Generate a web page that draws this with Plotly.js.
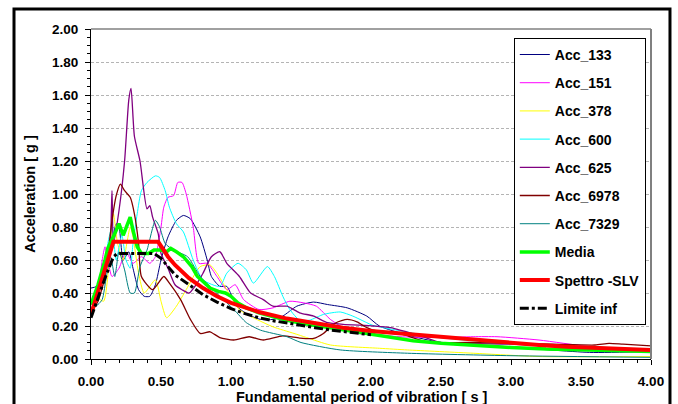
<!DOCTYPE html>
<html>
<head>
<meta charset="utf-8">
<script src="https://cdn.plot.ly/plotly-3.0.1.min.js"></script>
<style>html,body{margin:0;padding:0;background:#fff}#chart{width:678px;height:404px}</style>
</head>
<body>
<div id="chart"></div>
<script>
// ---- Data ----
const seriesNames = ["Acc_133","Acc_151","Acc_378","Acc_600","Acc_625","Acc_6978","Acc_7329","Media","Spettro -SLV","Limite inf"];

const acc133T = [0,0.04,0.08,0.12,0.15,0.18,0.2,0.23,0.27,0.3,0.34,0.38,0.42,0.46,0.5,0.55,0.61,0.66,0.71,0.78,0.83,0.86,0.92,0.97,1.04,1.12,1.21,1.3,1.37,1.47,1.59,1.69,1.83,1.97,2.06,2.26,2.5,2.97,3.56,4.0];
const acc133A = [0.43,0.44,0.5,0.62,0.7,0.82,0.8,0.6,0.65,0.55,0.42,0.38,0.38,0.45,0.6,0.74,0.84,0.87,0.85,0.74,0.6,0.5,0.44,0.44,0.32,0.27,0.24,0.24,0.26,0.32,0.345,0.33,0.31,0.26,0.2,0.145,0.1,0.075,0.04,0.045];

const acc151T = [0,0.05,0.08,0.1,0.12,0.15,0.2,0.25,0.3,0.36,0.42,0.46,0.5,0.52,0.55,0.59,0.62,0.65,0.68,0.73,0.77,0.83,0.9,0.97,1.03,1.09,1.2,1.3,1.42,1.52,1.61,1.71,1.83,1.9,2.02,2.2,2.5,2.73,2.9,3.2,3.56,4.0];
const acc151A = [0.35,0.42,0.6,0.68,0.6,0.5,0.55,0.65,0.58,0.62,0.58,0.62,0.8,0.92,0.98,0.99,1.07,1.07,1.0,0.8,0.58,0.58,0.5,0.42,0.45,0.36,0.3,0.31,0.35,0.34,0.32,0.24,0.175,0.155,0.15,0.135,0.13,0.135,0.135,0.115,0.075,0.055];

const acc378T = [0,0.04,0.09,0.12,0.16,0.19,0.23,0.28,0.3,0.34,0.38,0.46,0.5,0.54,0.61,0.68,0.78,0.85,0.9,0.97,1.06,1.16,1.3,1.45,1.54,1.71,2.06,2.26,2.73,3.2,4.0];
const acc378A = [0.3,0.37,0.35,0.5,0.88,0.7,0.6,0.8,0.74,0.52,0.4,0.48,0.35,0.25,0.32,0.42,0.56,0.57,0.52,0.42,0.3,0.25,0.195,0.155,0.13,0.085,0.065,0.055,0.035,0.015,0.015];

const acc600T = [0,0.05,0.1,0.12,0.15,0.18,0.22,0.25,0.28,0.3,0.33,0.36,0.4,0.46,0.49,0.53,0.56,0.61,0.66,0.73,0.8,0.92,0.97,1.05,1.11,1.16,1.26,1.31,1.37,1.42,1.49,1.56,1.66,1.78,1.87,1.97,2.01,2.49,2.97,3.56,4.0];
const acc600A = [0.3,0.4,0.55,0.7,0.8,0.6,0.75,0.6,0.55,0.7,0.88,1.02,1.07,1.11,1.1,1.02,0.92,0.82,0.77,0.6,0.48,0.44,0.52,0.58,0.54,0.46,0.56,0.5,0.38,0.3,0.235,0.235,0.27,0.285,0.26,0.22,0.205,0.13,0.095,0.075,0.055];

const acc625T = [0,0.05,0.1,0.13,0.15,0.16,0.2,0.24,0.27,0.286,0.31,0.35,0.4,0.42,0.44,0.48,0.5,0.55,0.6,0.65,0.7,0.75,0.8,0.86,0.92,0.97,1.06,1.14,1.23,1.3,1.4,1.49,1.59,1.69,1.8,2.02,2.14,2.37,2.5,3.0,3.5,4.0];
const acc625A = [0.33,0.45,0.55,0.6,1.02,0.7,0.9,1.2,1.57,1.64,1.35,1.2,0.91,0.93,0.86,0.76,0.64,0.55,0.45,0.42,0.4,0.45,0.52,0.62,0.65,0.58,0.5,0.4,0.36,0.32,0.32,0.28,0.26,0.22,0.21,0.2,0.19,0.135,0.1,0.09,0.07,0.05];

const acc6978T = [0,0.05,0.1,0.13,0.15,0.18,0.21,0.24,0.28,0.31,0.34,0.36,0.44,0.52,0.56,0.64,0.71,0.78,0.85,0.92,1.02,1.13,1.23,1.37,1.49,1.59,1.66,1.75,1.83,1.9,1.97,2.04,2.2,2.42,2.7,3.0,3.3,3.6,3.7,3.8,4.0];
const acc6978A = [0.28,0.35,0.5,0.7,0.84,0.99,1.06,1.02,0.98,0.88,0.7,0.5,0.42,0.5,0.46,0.36,0.24,0.155,0.165,0.13,0.115,0.135,0.115,0.14,0.127,0.125,0.155,0.22,0.24,0.225,0.19,0.17,0.155,0.1,0.1,0.095,0.09,0.085,0.095,0.09,0.08];

const acc7329T = [0,0.05,0.08,0.11,0.14,0.17,0.2,0.24,0.28,0.31,0.35,0.4,0.46,0.49,0.53,0.59,0.69,0.78,0.85,0.92,1.02,1.11,1.21,1.4,1.5,1.78,2.26,3.0,4.0];
const acc7329A = [0.3,0.33,0.36,0.5,0.62,0.5,0.65,0.54,0.4,0.4,0.56,0.66,0.84,0.8,0.7,0.66,0.62,0.5,0.44,0.38,0.3,0.22,0.175,0.135,0.1,0.055,0.035,0.02,0.01];

const mediaT = [0,0.05,0.1,0.12,0.17,0.2,0.23,0.26,0.28,0.3,0.33,0.36,0.41,0.45,0.5,0.54,0.57,0.61,0.66,0.72,0.76,0.8,0.85,0.91,0.96,1.0,1.05,1.11,1.2,1.33,1.45,1.55,1.7,1.85,2.0,2.15,2.3,2.5,2.75,3.0,3.25,3.5,3.75,4.0];
const mediaA = [0.33,0.45,0.6,0.67,0.76,0.82,0.75,0.82,0.86,0.78,0.68,0.64,0.64,0.66,0.66,0.65,0.67,0.65,0.62,0.56,0.5,0.47,0.43,0.41,0.4,0.38,0.34,0.31,0.28,0.25,0.225,0.21,0.19,0.17,0.155,0.135,0.11,0.095,0.08,0.07,0.06,0.055,0.05,0.045];

const slvT = [0,0.16,0.48,0.55,0.6,0.7,0.8,0.9,1.0,1.2,1.4,1.6,1.8,2.0,2.2,2.4,2.6,2.8,3.0,3.2,3.4,3.6,3.8,4.0];
const slvA = [0.27,0.71,0.71,0.62,0.57,0.49,0.43,0.38,0.34,0.285,0.245,0.215,0.19,0.17,0.155,0.142,0.127,0.11,0.097,0.085,0.075,0.067,0.06,0.054];

const limT = [0,0.05,0.1,0.16,0.19,0.45,0.5,0.55,0.6,0.7,0.8,0.9,1.0,1.1,1.2,1.3,1.4,1.5,1.6,1.7,1.8,1.9,2.0];
const limA = [0.25,0.37,0.49,0.62,0.64,0.64,0.61,0.56,0.51,0.45,0.39,0.345,0.305,0.275,0.25,0.232,0.217,0.204,0.19,0.177,0.166,0.156,0.147];

const xTicks = [0,0.5,1,1.5,2,2.5,3,3.5,4];
const yTicks = [0,0.2,0.4,0.6,0.8,1.0,1.2,1.4,1.6,1.8,2.0];
const xTitle = 'Fundamental period of vibration [ s ]';
const yTitle = 'Acceleration [ g ]';

// ---- Styles ----
const styles = [
  {color:"#000080", width:1},
  {color:"#FF00FF", width:1},
  {color:"#FFFF00", width:1},
  {color:"#00FFFF", width:1},
  {color:"#800080", width:1.3},
  {color:"#800000", width:1.3},
  {color:"#008080", width:1},
  {color:"#00FF00", width:3.5},
  {color:"#FF0000", width:4},
  {color:"#000000", width:3, dash:"dashdot"}
];
const xs = [acc133T,acc151T,acc378T,acc600T,acc625T,acc6978T,acc7329T,mediaT,slvT,limT];
const ys = [acc133A,acc151A,acc378A,acc600A,acc625A,acc6978A,acc7329A,mediaA,slvA,limA];

const traces = seriesNames.map((n,i)=>({
  x: xs[i], y: ys[i], name: n, type:'scatter', mode:'lines',
  line: Object.assign({shape: i<7 ? 'spline' : 'linear', smoothing:0.6}, styles[i]),
  legendgroup: 'g'+i, hoverinfo:'skip'
}));

const F = '"Liberation Sans", Arial, sans-serif';
const layout = {
  width:678, height:404,
  margin:{l:91, r:27, t:29, b:45},
  paper_bgcolor:'#ffffff', plot_bgcolor:'#ffffff',
  font:{family:F, color:'#000', size:13, weight:'bold'},
  showlegend:true,
  legend:{x:0.755, y:0.973, xanchor:'left', yanchor:'top', bgcolor:'#fff',
          bordercolor:'#000', borderwidth:1, font:{family:F, size:14, color:'#000', weight:'bold'},
          traceorder:'grouped', tracegroupgap:7, itemwidth:30},
  xaxis:{range:[0,4], tickvals:xTicks, ticktext:xTicks.map(v=>v.toFixed(2)),
         ticks:'outside', ticklen:5, tickcolor:'#000', tickwidth:1,
         minor:{dtick:0.1, ticks:'outside', ticklen:3, tickcolor:'#000', showgrid:false},
         showline:true, linecolor:'#000', linewidth:1, showgrid:false, zeroline:false,
         ticklabelstandoff:5,
         tickfont:{family:F, size:13.5, color:'#000', weight:'bold'}},
  yaxis:{range:[0,2], tickvals:yTicks, ticktext:yTicks.map(v=>v.toFixed(2)),
         ticks:'outside', ticklen:5, tickcolor:'#000', tickwidth:1,
         minor:{dtick:0.05, ticks:'outside', ticklen:3, tickcolor:'#000', showgrid:false},
         showline:true, linecolor:'#000', linewidth:1,
         showgrid:true, gridcolor:'#b4b4b4', gridwidth:1, griddash:'3px,2px', zeroline:false,
         ticklabelstandoff:4,
         tickfont:{family:F, size:13.5, color:'#000', weight:'bold'},
         title:{text:yTitle, font:{family:F, size:14.5, color:'#000', weight:'bold'}, standoff:12}},
  annotations:[
    {text:xTitle, xref:'paper', yref:'paper', x:0.484, y:-0.115, xanchor:'center', yanchor:'middle',
     showarrow:false, font:{family:F, size:14.5, color:'#000', weight:'bold'}}
  ],
  shapes:[
    {type:'line', xref:'paper', yref:'paper', x0:0, x1:1, y0:1, y1:1, line:{color:'#808080', width:1.5}},
    {type:'line', xref:'paper', yref:'paper', x0:1, x1:1, y0:0, y1:1, line:{color:'#808080', width:2}},
    {type:'rect', xref:'paper', yref:'paper', x0:-0.1375, x1:1.0339, y0:-0.15, y1:1.0606, line:{color:'#000', width:3}, layer:'below'}
  ]
};
Plotly.newPlot('chart', traces, layout, {displayModeBar:false, staticPlot:true});
</script>
</body>
</html>
